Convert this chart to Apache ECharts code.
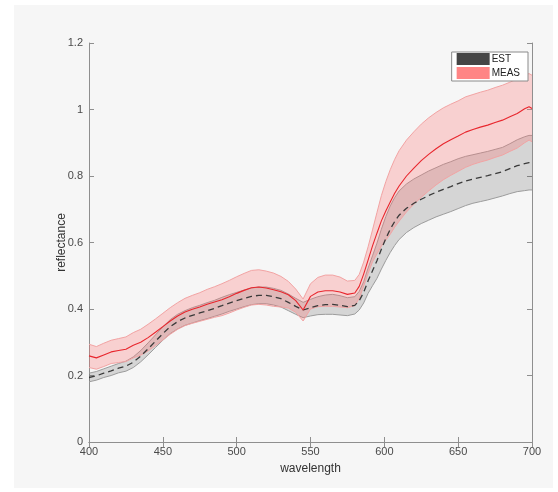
<!DOCTYPE html>
<html>
<head>
<meta charset="utf-8">
<script src="https://cdn.jsdelivr.net/npm/echarts@6/dist/echarts.min.js"></script>
<style>
  html, body { margin: 0; padding: 0; background: #ffffff; }
  #chart { width: 558px; height: 492px; }
</style>
</head>
<body>
<div id="chart"></div>
<script>
// Sample wavelengths (nm)
const wavelength = [400,405,410,415,420,425,430,435,440,445,450,455,460,465,470,475,480,485,490,495,
  500,505,510,515,520,525,530,535,540,545,550,555,560,565,570,575,580,583,586,589,592,595,598,601,604,607,
  610,615,620,625,630,635,640,645,650,655,660,665,670,675,680,685,690,695,698,700];

// Estimated reflectance: mean and standard deviation
const estMean = [0.194,0.199,0.207,0.214,0.222,0.228,0.240,0.258,0.280,0.303,0.326,0.347,0.362,0.373,0.381,0.388,0.395,0.402,0.410,0.418,
  0.425,0.432,0.438,0.441,0.441,0.437,0.431,0.420,0.408,0.397,0.404,0.410,0.413,0.414,0.411,0.407,0.411,0.425,0.450,0.485,0.515,0.545,0.580,0.612,0.640,0.663,
  0.682,0.703,0.718,0.730,0.741,0.751,0.760,0.768,0.777,0.785,0.791,0.796,0.801,0.807,0.813,0.822,0.831,0.837,0.840,0.840];
const estSd = [0.013,0.013,0.013,0.014,0.014,0.015,0.016,0.017,0.018,0.019,0.020,0.021,0.022,0.022,0.023,0.023,0.024,0.024,0.025,0.025,
  0.025,0.025,0.025,0.025,0.025,0.025,0.025,0.025,0.024,0.023,0.025,0.027,0.029,0.030,0.029,0.027,0.026,0.028,0.032,0.038,0.045,0.053,0.060,0.066,0.070,0.072,
  0.073,0.073,0.073,0.073,0.074,0.074,0.075,0.075,0.075,0.074,0.073,0.073,0.073,0.073,0.073,0.075,0.078,0.081,0.082,0.082];

// Measured reflectance: mean and standard deviation
const measMean = [0.259,0.253,0.262,0.271,0.275,0.279,0.291,0.300,0.314,0.330,0.347,0.364,0.379,0.391,0.399,0.406,0.414,0.421,0.428,0.437,
  0.447,0.456,0.464,0.466,0.463,0.458,0.452,0.443,0.425,0.397,0.438,0.451,0.455,0.455,0.451,0.444,0.448,0.468,0.505,0.547,0.590,0.628,0.665,0.695,0.722,0.748,
  0.770,0.800,0.824,0.846,0.865,0.882,0.897,0.909,0.920,0.932,0.940,0.947,0.953,0.961,0.968,0.978,0.988,1.002,1.008,1.003];
const measSd = [0.035,0.034,0.035,0.035,0.036,0.037,0.038,0.039,0.040,0.040,0.040,0.040,0.040,0.041,0.042,0.043,0.045,0.046,0.048,0.049,
  0.050,0.051,0.052,0.052,0.051,0.050,0.046,0.040,0.035,0.033,0.038,0.044,0.047,0.047,0.045,0.040,0.038,0.036,0.036,0.040,0.048,0.062,0.076,0.088,0.097,0.102,
  0.106,0.108,0.109,0.110,0.110,0.109,0.108,0.107,0.106,0.106,0.105,0.105,0.105,0.105,0.105,0.104,0.104,0.102,0.100,0.100];

const legendNames = ['EST', 'MEAS'];
const xTicks = { min: 400, max: 700, step: 50 };
const yTicks = { min: 0, max: 1.2, step: 0.2 };

const FONT = '"Liberation Sans", Arial, Helvetica, sans-serif';
const AXIS_GRAY = '#8f8f8f';
const LABEL_GRAY = '#4a4a4a';

// Shaded mean ± sd band drawn as one polygon with outlined edges
function bandSeries(name, mean, sd, fill, edge, legendColor, z) {
  const rows = wavelength.map((w, i) => [w, mean[i] - sd[i], mean[i] + sd[i]]);
  return {
    type: 'custom',
    name: name,
    coordinateSystem: 'cartesian2d',
    z: z,
    silent: true,
    clip: true,
    itemStyle: { color: legendColor },
    encode: { x: 0, y: [1, 2] },
    data: rows,
    renderItem: function (params, api) {
      if (params.dataIndex !== 0) return null;
      const upper = rows.map(r => api.coord([r[0], r[2]]));
      const lower = rows.map(r => api.coord([r[0], r[1]]));
      const poly = upper.concat(lower.slice().reverse());
      return {
        type: 'group',
        children: [
          { type: 'polygon', shape: { points: poly }, style: { fill: fill, stroke: null } },
          { type: 'polyline', shape: { points: upper }, style: { stroke: edge, fill: null, lineWidth: 1 } },
          { type: 'polyline', shape: { points: lower }, style: { stroke: edge, fill: null, lineWidth: 1 } }
        ]
      };
    }
  };
}

function pairs(mean) {
  return wavelength.map((w, i) => [w, mean[i]]);
}

const chart = echarts.init(document.getElementById('chart'), null, { renderer: 'canvas' });

const frameAxis = {
  axisLine: { show: true, lineStyle: { color: AXIS_GRAY, width: 1 } },
  axisTick: { show: true, inside: true, length: 5, lineStyle: { color: AXIS_GRAY, width: 1 } },
  splitLine: { show: false }
};

chart.setOption({
  animation: false,
  backgroundColor: '#ffffff',
  graphic: {
    elements: [
      { type: 'rect', z: -100, silent: true, shape: { x: 14, y: 5, width: 539, height: 483 }, style: { fill: '#f6f6f6' } }
    ]
  },
  grid: { left: 89, top: 43, right: 26, bottom: 50, containLabel: false },
  legend: {
    orient: 'vertical',
    right: 30,
    top: 52,
    icon: 'rect',
    itemWidth: 33,
    itemHeight: 12,
    itemGap: 2,
    padding: [1, 8, 2, 5],
    backgroundColor: '#ffffff',
    borderColor: '#8a8a8a',
    borderWidth: 1,
    borderRadius: 0,
    selectedMode: false,
    textStyle: { fontFamily: FONT, fontSize: 10, color: '#222222', padding: [0, 0, 0, -3] },
    data: [
      { name: legendNames[0], itemStyle: { color: '#454545' } },
      { name: legendNames[1], itemStyle: { color: '#ff8585' } }
    ]
  },
  xAxis: [
    Object.assign({
      type: 'value', min: xTicks.min, max: xTicks.max, interval: xTicks.step,
      position: 'bottom',
      name: 'wavelength', nameLocation: 'middle', nameGap: 21, nameMoveOverlap: false,
      nameTextStyle: { fontFamily: FONT, fontSize: 12, color: '#333333' },
      axisLabel: { fontFamily: FONT, fontSize: 11, color: LABEL_GRAY, margin: 4 }
    }, frameAxis),
    Object.assign({
      type: 'value', min: xTicks.min, max: xTicks.max, interval: xTicks.step,
      position: 'top', axisLabel: { show: false }
    }, frameAxis)
  ],
  yAxis: [
    Object.assign({
      type: 'value', min: yTicks.min, max: yTicks.max, interval: yTicks.step,
      position: 'left',
      name: 'reflectance', nameLocation: 'middle', nameGap: 21, nameMoveOverlap: false,
      nameTextStyle: { fontFamily: FONT, fontSize: 12, color: '#333333' },
      axisLabel: { fontFamily: FONT, fontSize: 11, color: LABEL_GRAY, margin: 6 }
    }, frameAxis),
    Object.assign({
      type: 'value', min: yTicks.min, max: yTicks.max, interval: yTicks.step,
      position: 'right', axisLabel: { show: false }
    }, frameAxis)
  ],
  series: [
    bandSeries('EST', estMean, estSd, 'rgba(64,64,64,0.18)', '#9c9c9c', '#454545', 2),
    bandSeries('MEAS', measMean, measSd, 'rgba(255,110,110,0.28)', '#f2a3a3', '#ff8585', 3),
    {
      type: 'line', name: 'EST mean', z: 4, silent: true,
      data: pairs(estMean), showSymbol: false, symbol: 'none',
      lineStyle: { color: '#3a3a3a', width: 1.3, type: [6, 4] }
    },
    {
      type: 'line', name: 'MEAS mean', z: 5, silent: true,
      data: pairs(measMean), showSymbol: false, symbol: 'none',
      lineStyle: { color: '#e8262d', width: 1.1 }
    }
  ]
});
</script>
</body>
</html>
